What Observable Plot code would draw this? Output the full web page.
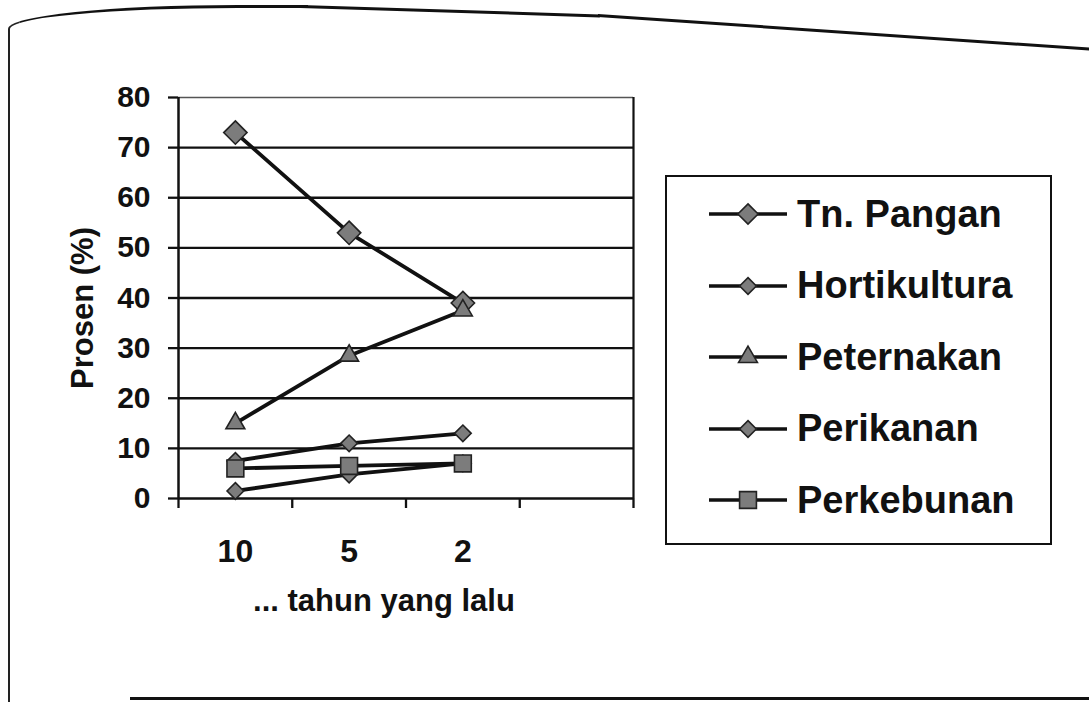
<!DOCTYPE html>
<html>
<head>
<meta charset="utf-8">
<script src="https://cdn.jsdelivr.net/npm/d3@7"></script>
<script src="https://cdn.jsdelivr.net/npm/@observablehq/plot@0.6"></script>
<style>
  html, body { margin: 0; padding: 0; background: #fff; }
  body { width: 1089px; height: 702px; position: relative; overflow: hidden; font-family: "Liberation Sans", Arial, sans-serif; }
  #arc { position: absolute; left: 8px; top: 5px; width: 300px; height: 700px; border-top: 3px solid #111; border-left: 2px solid #222; border-top-left-radius: 230px 24px; box-sizing: border-box; }
  #topline1 { position: absolute; left: 300px; top: 5px; width: 300px; height: 3px; background: #111; transform-origin: 0 0; transform: rotate(1.8deg); }
  #topline2 { position: absolute; left: 598px; top: 14px; width: 500px; height: 3px; background: #111; transform-origin: 0 0; transform: rotate(3.9deg); }
  #bottomline { position: absolute; left: 130px; top: 697px; width: 970px; height: 3px; background: #111; }
  #chart { position: absolute; left: 0; top: 0; }
  #legend { position: absolute; left: 665px; top: 175px; width: 387px; height: 370px; border: 2px solid #111; box-sizing: border-box; }
  .row { position: absolute; left: 0; height: 50px; display: flex; align-items: center; }
  .row svg { margin-left: 42px; }
  .row span { margin-left: 8px; font-size: 38px; font-weight: bold; color: #111; white-space: nowrap; }
</style>
</head>
<body>
<div id="arc"></div>
<div id="topline1"></div>
<div id="topline2"></div>
<div id="bottomline"></div>
<div id="chart"></div>
<div id="legend"></div>
<script>
// ---- data ----
const categories = ["10", "5", "2"];
const yTicks = [0, 10, 20, 30, 40, 50, 60, 70, 80];
const seriesNames = ["Tn. Pangan", "Hortikultura", "Peternakan", "Perikanan", "Perkebunan"];
const tnPangan = [73, 53, 39];
const hortikultura = [7.5, 11, 13];
const peternakan = [15, 28.5, 37.5];
const perikanan = [1.5, 4.8, 7];
const perkebunan = [6, 6.5, 7];
const yLabel = "Prosen (%)";
const xLabel = "... tahun yang lalu";

// ---- styles ----
const seriesValues = [tnPangan, hortikultura, peternakan, perikanan, perkebunan];
const markerSymbol = ["diamond2", "diamond2", "triangle", "diamond2", "square"];
const markerR = [10.5, 7.5, 7, 7.5, 9.5];
const d3Symbols = { diamond2: d3.symbolDiamond2, triangle: d3.symbolTriangle, square: d3.symbolSquare };
const markerFill = "#7c7c7c";
const ink = "#111";

const rows = seriesNames.flatMap((s, si) =>
  seriesValues[si].map((v, i) => ({ series: s, x: i + 0.5, y: v }))
);
const nSlots = categories.length + 1; // one empty category slot at the right, as in the reference

const font = "'Liberation Sans', Arial, sans-serif";

const chart = Plot.plot({
  width: 650,
  height: 640,
  marginLeft: 178,
  marginRight: 17,
  marginTop: 97,
  marginBottom: 142,
  style: { fontFamily: font, fontWeight: "bold", color: ink, background: "transparent" },
  x: { type: "linear", domain: [0, nSlots] },
  y: { domain: [0, 80] },
  marks: [
    // gridlines
    Plot.ruleY(yTicks.filter(t => t > 0 && t < 80), { stroke: ink, strokeWidth: 2.3 }),
    Plot.ruleY([80], { stroke: "#555", strokeWidth: 1.3 }),
    // plot area borders
    Plot.ruleX([0], { stroke: ink, strokeWidth: 2.5 }),
    Plot.ruleX([nSlots], { stroke: ink, strokeWidth: 2.2 }),
    Plot.ruleY([0], { stroke: ink, strokeWidth: 2.5 }),
    // y axis
    Plot.axisY({ ticks: yTicks, tickSize: 10, tickPadding: 18, fontSize: 30, strokeWidth: 2.3, label: null }),
    // x axis tick marks at category boundaries
    Plot.axisX({ ticks: d3.range(nSlots + 1), tickSize: 10, tickFormat: () => "", strokeWidth: 2.3, label: null }),
    // x axis category labels
    Plot.axisX({ ticks: categories.map((c, i) => i + 0.5), tickFormat: v => categories[Math.floor(v)], tickSize: 0, tickPadding: 41, fontSize: 32, label: null }),
    // axis titles
    Plot.text([xLabel], { frameAnchor: "bottom", textAnchor: "middle", lineAnchor: "middle", dx: -22, dy: 103, fontSize: 31, fontWeight: "bold", fill: ink }),
    Plot.text([yLabel], { frameAnchor: "left", textAnchor: "middle", lineAnchor: "middle", dx: -95, dy: 10, rotate: -90, fontSize: 31, fontWeight: "bold", fill: ink }),
    // series lines
    Plot.line(rows, { x: "x", y: "y", z: "series", stroke: ink, strokeWidth: 3.8 }),
    // markers
    ...seriesNames.map((s, si) =>
      Plot.dot(rows.filter(d => d.series === s), {
        x: "x", y: "y", symbol: markerSymbol[si], r: markerR[si],
        fill: markerFill, stroke: "#222", strokeWidth: 1.6
      })
    )
  ]
});
document.getElementById("chart").appendChild(chart);

// ---- legend ----
const legend = d3.select("#legend");
seriesNames.forEach((s, i) => {
  const row = legend.append("div").attr("class", "row").style("top", (12 + i * 71.5) + "px");
  const svg = row.append("svg").attr("width", 80).attr("height", 40);
  svg.append("line").attr("x1", 0).attr("x2", 78).attr("y1", 20).attr("y2", 20)
    .attr("stroke", ink).attr("stroke-width", 3.5);
  const size = Math.PI * markerR[i] * markerR[i] * (i === 0 ? 0.75 : 1);
  svg.append("path")
    .attr("transform", "translate(39,20)")
    .attr("d", d3.symbol(d3Symbols[markerSymbol[i]], size)())
    .attr("fill", markerFill).attr("stroke", "#222").attr("stroke-width", 1.6);
  row.append("span").text(s);
});
</script>
</body>
</html>
